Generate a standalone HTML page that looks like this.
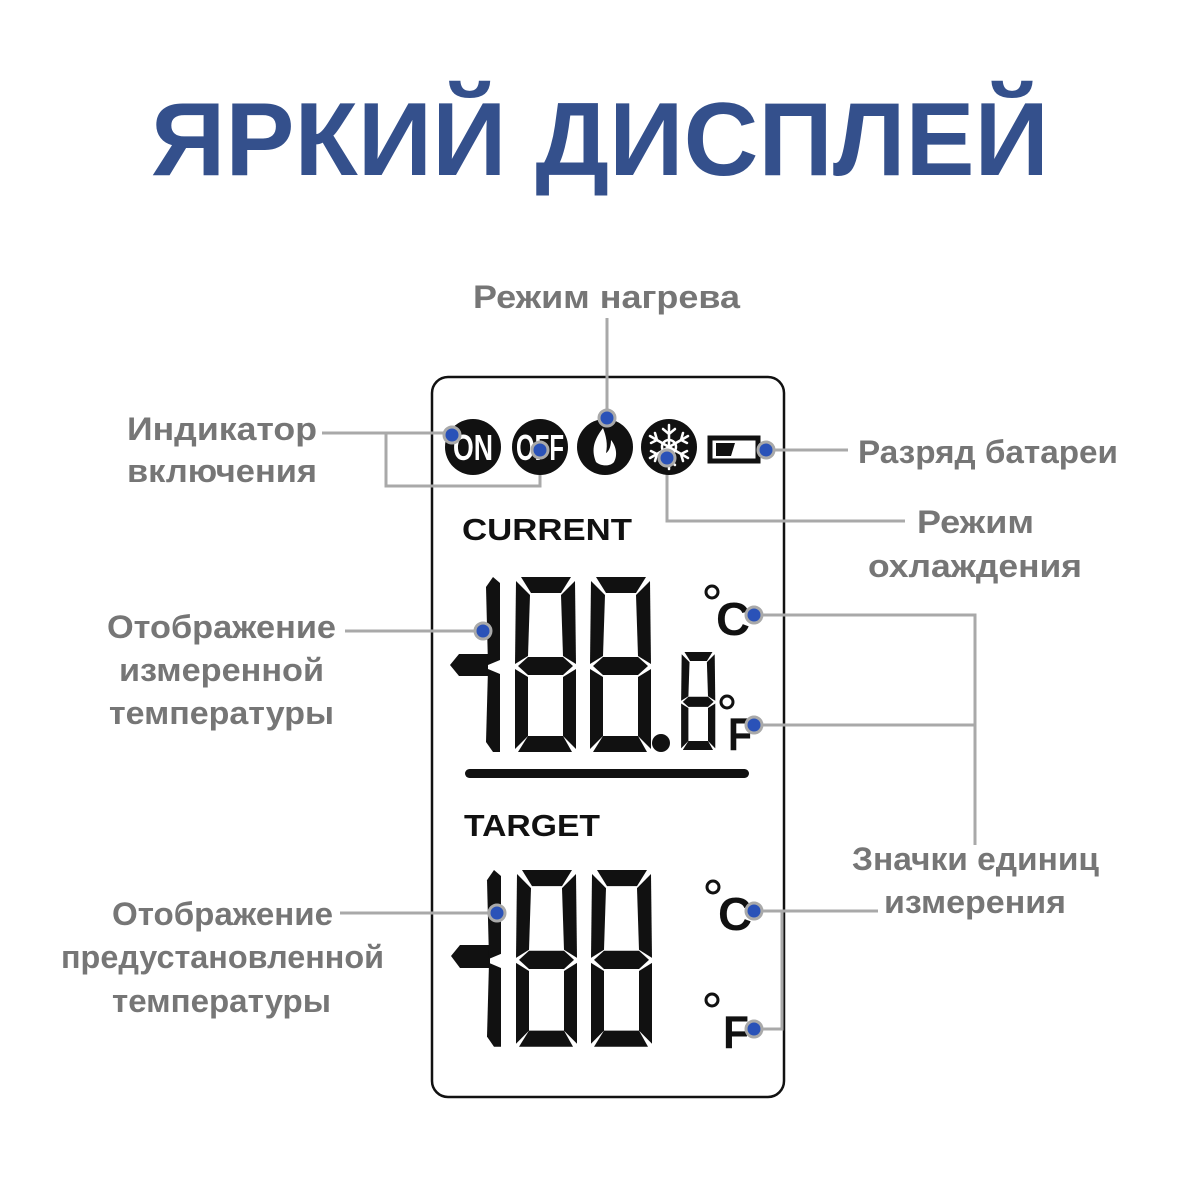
<!DOCTYPE html>
<html><head><meta charset="utf-8">
<style>
html,body{margin:0;padding:0;background:#fff;}
svg{display:block;}
.lbl{font-family:"Liberation Sans",sans-serif;font-weight:bold;font-size:32px;fill:#767676;}
</style></head>
<body>
<svg width="1200" height="1200" viewBox="0 0 1200 1200" xmlns="http://www.w3.org/2000/svg">
<defs>
  <g id="d8">
    <polygon points="8,0 58,0 48,16 18,16"/>
    <polygon points="3,4 17,18 15,79 2,87"/>
    <polygon points="62,4 63,87 50,79 48,18"/>
    <polygon points="5,89 15,80 50,80 60,89 50,98 15,98"/>
    <polygon points="2,92 15,100 15,159 2,172"/>
    <polygon points="63,92 63,172 50,159 50,100"/>
    <polygon points="5,175 59,175 50,159 15,159"/>
  </g>
  <g id="d1">
    <polygon points="9,0 16,6 16,83 4,88 2,10"/>
    <polygon points="4,92 16,97 16,175 9,175 2,165"/>
  </g>
</defs>

<text x="600" y="175" text-anchor="middle" textLength="898" lengthAdjust="spacingAndGlyphs" style="font-family:'Liberation Sans',sans-serif;font-weight:bold;font-size:104px;fill:#34508c;">ЯРКИЙ ДИСПЛЕЙ</text>

<rect x="432" y="377" width="352" height="720" rx="16" fill="none" stroke="#111" stroke-width="2.5"/>

<g stroke="#a9a9a9" stroke-width="3" fill="none">
  <line x1="607" y1="318" x2="607" y2="418"/>
  <polyline points="322,433 452,433"/>
  <polyline points="386,433 386,486 540,486 540,450"/>
  <line x1="766" y1="450" x2="848" y2="450"/>
  <polyline points="667,458 667,521 905,521"/>
  <polyline points="754,615 975,615 975,845"/>
  <line x1="754" y1="725" x2="975" y2="725"/>
  <polyline points="754,911 878,911"/>
  <polyline points="754,1029 782,1029 782,911"/>
  <line x1="345" y1="631" x2="483" y2="631"/>
  <line x1="340" y1="913" x2="497" y2="913"/>
</g>

<circle cx="473" cy="447" r="28" fill="#111"/>
<text x="473" y="460" text-anchor="middle" textLength="40" lengthAdjust="spacingAndGlyphs" style="font-family:'Liberation Sans',sans-serif;font-weight:bold;font-size:36px;fill:#fff;">ON</text>
<circle cx="540" cy="447" r="28" fill="#111"/>
<text x="540" y="460" text-anchor="middle" textLength="48" lengthAdjust="spacingAndGlyphs" style="font-family:'Liberation Sans',sans-serif;font-weight:bold;font-size:36px;fill:#fff;">OFF</text>
<circle cx="605" cy="447" r="28" fill="#111"/>
<path d="M603,428 C592,442 592,452 596,462 C600,466 610,467 614,462 C618,455 616,446 611,440 C611,448 608,452 606,453 C608,444 606,436 603,428 Z" fill="#fff"/>
<circle cx="669" cy="447" r="28" fill="#111"/>
<g stroke="#fff" stroke-width="2.5" stroke-linecap="round" fill="none">
  <line x1="669" y1="425" x2="669" y2="469"/>
  <line x1="650" y1="436" x2="688" y2="458"/>
  <line x1="650" y1="458" x2="688" y2="436"/>
  <circle cx="669" cy="447" r="7"/>
  <polyline points="663,429 669,434 675,429"/>
  <polyline points="663,465 669,460 675,465"/>
  <polyline points="651,443 657,440 655,433"/>
  <polyline points="687,443 681,440 683,433"/>
  <polyline points="651,451 657,454 655,461"/>
  <polyline points="687,451 681,454 683,461"/>
</g>
<rect x="710" y="438" width="48" height="23" fill="none" stroke="#111" stroke-width="5"/>
<polygon points="716,443 735,443 731,456 716,456" fill="#111"/>

<text x="462" y="540" textLength="170" lengthAdjust="spacingAndGlyphs" style="font-family:'Liberation Sans',sans-serif;font-weight:bold;font-size:31px;fill:#111;">CURRENT</text>
<g fill="#111">
  <polygon points="450,665 459,654 488,654 488,676 459,676"/>
  <use href="#d1" x="484" y="577"/>
  <use href="#d8" x="513" y="577"/>
  <use href="#d8" x="588" y="577"/>
  <circle cx="661" cy="743" r="9"/>
  <use href="#d8" transform="translate(680,652) scale(0.56)"/>
  <rect x="465" y="769" width="284" height="9" rx="4.5"/>
</g>
<circle cx="712" cy="592" r="6" fill="none" stroke="#111" stroke-width="3"/>
<text x="716" y="635" textLength="34" lengthAdjust="spacingAndGlyphs" style="font-family:'Liberation Sans',sans-serif;font-weight:bold;font-size:46px;fill:#111;">C</text>
<circle cx="727" cy="702" r="6" fill="none" stroke="#111" stroke-width="3"/>
<text x="728" y="750" textLength="24" lengthAdjust="spacingAndGlyphs" style="font-family:'Liberation Sans',sans-serif;font-weight:bold;font-size:46px;fill:#111;">F</text>

<text x="464" y="836" textLength="136" lengthAdjust="spacingAndGlyphs" style="font-family:'Liberation Sans',sans-serif;font-weight:bold;font-size:31px;fill:#111;">TARGET</text>
<g fill="#111">
  <polygon points="451,956 460,945 490,945 490,968 460,968"/>
  <use href="#d1" transform="translate(485,870) scale(1,1.01)"/>
  <use href="#d8" transform="translate(514,870) scale(1,1.01)"/>
  <use href="#d8" transform="translate(589,870) scale(1,1.01)"/>
</g>
<circle cx="713" cy="887" r="6" fill="none" stroke="#111" stroke-width="3"/>
<text x="718" y="930" textLength="34" lengthAdjust="spacingAndGlyphs" style="font-family:'Liberation Sans',sans-serif;font-weight:bold;font-size:46px;fill:#111;">C</text>
<circle cx="712" cy="1000" r="6" fill="none" stroke="#111" stroke-width="3"/>
<text x="723" y="1048" textLength="26" lengthAdjust="spacingAndGlyphs" style="font-family:'Liberation Sans',sans-serif;font-weight:bold;font-size:46px;fill:#111;">F</text>

<g fill="#2a52b8" stroke="#a9a9a9" stroke-width="3">
  <circle cx="452" cy="435" r="8"/>
  <circle cx="540" cy="450" r="8"/>
  <circle cx="607" cy="418" r="8"/>
  <circle cx="667" cy="458" r="8"/>
  <circle cx="766" cy="450" r="8"/>
  <circle cx="754" cy="615" r="8"/>
  <circle cx="754" cy="725" r="8"/>
  <circle cx="754" cy="911" r="8"/>
  <circle cx="754" cy="1029" r="8"/>
  <circle cx="483" cy="631" r="8"/>
  <circle cx="497" cy="913" r="8"/>
</g>

<text class="lbl" x="473" y="308" textLength="267" lengthAdjust="spacingAndGlyphs">Режим нагрева</text>
<text class="lbl" x="127" y="440" textLength="190" lengthAdjust="spacingAndGlyphs">Индикатор</text>
<text class="lbl" x="127" y="482" textLength="190" lengthAdjust="spacingAndGlyphs">включения</text>
<text class="lbl" x="858" y="463" textLength="260" lengthAdjust="spacingAndGlyphs">Разряд батареи</text>
<text class="lbl" x="917" y="533" textLength="117" lengthAdjust="spacingAndGlyphs">Режим</text>
<text class="lbl" x="868" y="577" textLength="214" lengthAdjust="spacingAndGlyphs">охлаждения</text>
<text class="lbl" x="107" y="638" textLength="229" lengthAdjust="spacingAndGlyphs">Отображение</text>
<text class="lbl" x="119" y="681" textLength="205" lengthAdjust="spacingAndGlyphs">измеренной</text>
<text class="lbl" x="109" y="724" textLength="225" lengthAdjust="spacingAndGlyphs">температуры</text>
<text class="lbl" x="112" y="925" textLength="221" lengthAdjust="spacingAndGlyphs">Отображение</text>
<text class="lbl" x="61" y="968" textLength="323" lengthAdjust="spacingAndGlyphs">предустановленной</text>
<text class="lbl" x="112" y="1012" textLength="219" lengthAdjust="spacingAndGlyphs">температуры</text>
<text class="lbl" x="852" y="870" textLength="247" lengthAdjust="spacingAndGlyphs">Значки единиц</text>
<text class="lbl" x="884" y="913" textLength="182" lengthAdjust="spacingAndGlyphs">измерения</text>
</svg>
</body></html>
